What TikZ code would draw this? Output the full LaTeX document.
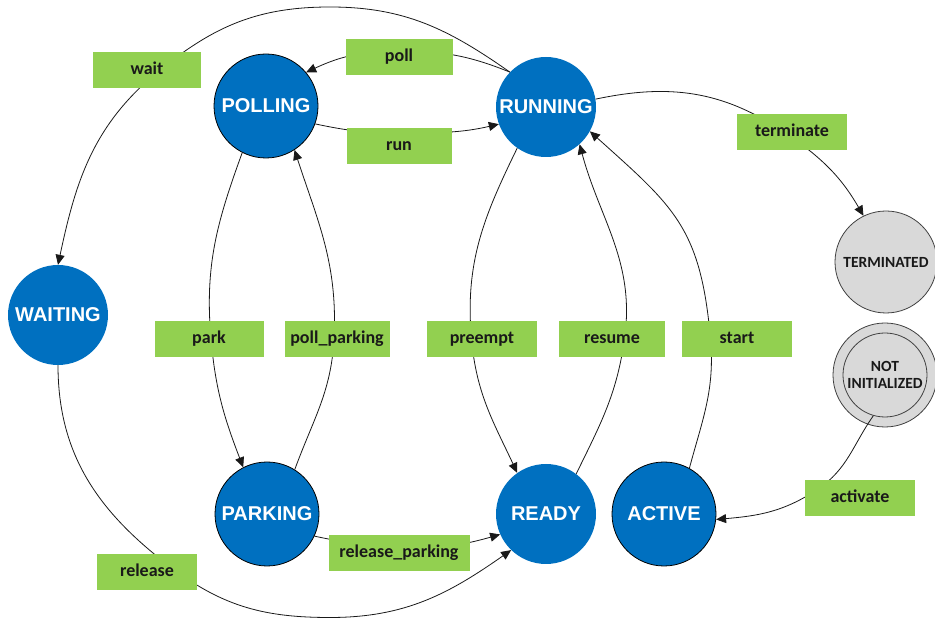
\documentclass[tikz,border=0pt]{standalone}
\usepackage{fontspec}
\setmainfont{Carlito}
\newfontfamily\arialf{Liberation Sans}
\usetikzlibrary{arrows.meta,calc}
\definecolor{stblue}{HTML}{0070C0}
\definecolor{lgreen}{HTML}{92D050}
\definecolor{sgray}{HTML}{D9D9D9}
\pgfdeclarelayer{circ}
\pgfdeclarelayer{edges}
\pgfsetlayers{circ,edges,main}
\begin{document}
\begin{tikzpicture}[x=1pt,y=1pt,
  stnode/.style={circle, fill=stblue, inner sep=0pt, minimum size=#1, text=white,
    font=\arialf\bfseries\fontsize{20}{24}\selectfont},
  stnodeo/.style={stnode=#1, draw=black, line width=0.8pt},
  gstate/.style={circle, fill=sgray, draw=black!75, line width=0.8pt, inner sep=0pt,
    minimum size=#1, font=\bfseries\fontsize{15.5}{17.5}\selectfont, align=center, text=black!90},
  lbl/.style={fill=lgreen, inner sep=0pt, minimum width=#1, minimum height=36pt,
    text height=12.5pt, text depth=3.5pt, font=\bfseries\fontsize{18}{21}\selectfont, text=black!90},
  conn/.style={draw=black!90, line width=0.8pt},
  arr/.style={conn, -{Triangle[length=10pt,width=9pt]}}
]
\useasboundingbox (0,0) rectangle (935,619);

% states
\begin{pgfonlayer}{circ}
\node[stnodeo=104pt] (polling) at (266,513) {POLLING};
\node[stnode=100pt] (running) at (546,512) {RUNNING};
\node[stnode=100pt] (waiting) at (58,304) {WAITING};
\node[stnodeo=104pt] (parking) at (267,105) {PARKING};
\node[stnode=100pt] (ready) at (546,105) {READY};
\node[stnodeo=104pt] (active) at (664,105) {ACTIVE};
\node[gstate=102pt] (terminated) at (886,357) {TERMINATED};
\node[gstate=104pt] (notouter) at (885,244) {};
\node[gstate=84pt] (notinner) at (885,244) {NOT\\INITIALIZED};
\end{pgfonlayer}

% labels
\node[lbl=108pt] (waitl) at (147,549) {wait};
\node[lbl=107pt] (polll) at (399,562) {poll};
\node[lbl=105pt] (runl) at (399,473) {run};
\node[lbl=110pt] (terml) at (792,487) {terminate};
\node[lbl=109pt] (parkl) at (209,280) {park};
\node[lbl=105pt] (ppl) at (337,280) {poll\_parking};
\node[lbl=110pt] (prel) at (482,280) {preempt};
\node[lbl=106pt] (resl) at (612,280) {resume};
\node[lbl=110pt] (startl) at (737,280) {start};
\node[lbl=110pt] (actl) at (860,121) {activate};
\node[lbl=100pt] (rell) at (147,47) {release};
\node[lbl=141pt] (rpl) at (399,66) {release\_parking};

% waypoints
\coordinate (topw) at (330,612);
\coordinate (wpt) at ($(waitl.center)+(13,0)$);
\coordinate (pollpt) at ($(polll.center)+(0,6)$);
\coordinate (runpt) at ($(runl.center)+(0,13)$);
\coordinate (termpt) at ($(terml.center)+(-8,0)$);
\coordinate (parkpt) at ($(parkl.center)+(2,0)$);
\coordinate (pppt) at ($(ppl.center)+(-3,0)$);
\coordinate (prept) at ($(prel.center)+(-10.5,0)$);
\coordinate (respt) at ($(resl.center)+(12.5,0)$);
\coordinate (stpt) at ($(startl.center)+(-26.5,0)$);
\coordinate (actpt) at ($(actl.center)+(-42,9)$);
\coordinate (relpt) at ($(rell.center)+(25,4)$);
\coordinate (botpt) at (330,1.5);

\begin{pgfonlayer}{edges}
\draw[arr] (running.136) to[out=145,in=0] (topw) to[out=180,in=39] (wpt) to[out=219,in=78] (waiting.north);
\draw[arr] (running.136) to[out=158,in=0] (pollpt) to[out=180,in=25] (polling.40);
\draw[arr] (polling.-20) to[out=-12,in=180] (runpt) to[out=0,in=193] (running.200);
\draw[arr] (running.9) to[out=12,in=146] (termpt) to[out=-34,in=120] (terminated.116);
\draw[arr] (polling.243) to[out=250,in=95] (parkpt) to[out=275,in=111] (parking.117);
\draw[arr] (parking.58) to[out=70,in=267] (pppt) to[out=87,in=-72] (polling.-57);
\draw[arr] (running.235) to[out=244,in=95] (prept) to[out=275,in=115] (ready.125);
\draw[arr] (ready.53) to[out=64,in=262] (respt) to[out=82,in=-75] (running.-48);
\draw[arr] (active.61) to[out=75,in=275] (stpt) to[out=95,in=-42,looseness=1.2] (running.-29);
\draw[arr] (notinner.254) to[out=235,in=34] (actpt) to[out=214,in=5] (active.-6);
\draw[arr] (parking.-25) to[out=-12,in=196] (ready.204);
\draw[arr] (waiting.south) to[out=270,in=143] (relpt) to[out=-37,in=180] (botpt) to[out=0,in=215] (ready.226);
\end{pgfonlayer}
\end{tikzpicture}
\end{document}
